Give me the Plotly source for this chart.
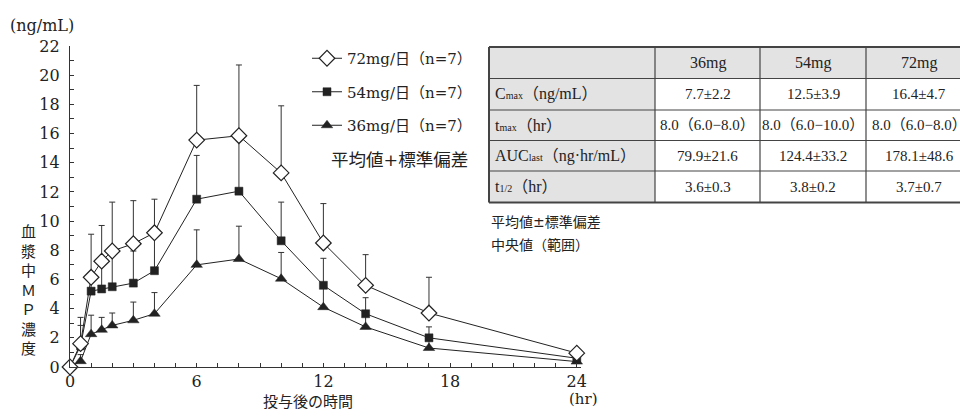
import plotly.graph_objects as go

# ---------------- data ----------------
times = [0, 0.5, 1, 1.5, 2, 3, 4, 6, 8, 10, 12, 14, 17, 24]
mean_72 = [0, 1.6, 6.15, 7.25, 7.95, 8.45, 9.2, 15.55, 15.85, 13.3, 8.5, 5.6, 3.7, 0.95]
sd_72 = [0, 1.8, 2.95, 2.45, 3.35, 2.95, 2.3, 3.75, 4.85, 4.6, 2.7, 2.1, 2.45, 0.3]
mean_54 = [0, 1.45, 5.2, 5.35, 5.5, 5.75, 6.6, 11.5, 12.05, 8.65, 5.6, 3.65, 2.0, 0.6]
sd_54 = [0, 1.4, 0.9, 1.85, 2.4, 2.2, 2.5, 3.0, 3.65, 2.65, 1.85, 1.1, 0.75, 0.2]
mean_36 = [0, 0.4, 2.25, 2.55, 2.85, 3.2, 3.65, 7.0, 7.4, 6.05, 4.1, 2.75, 1.3, 0.37]
sd_36 = [0, 0.45, 1.3, 0.85, 0.85, 1.25, 1.45, 2.4, 2.25, 1.8, 1.3, 0.75, 0.6, 0.1]

series_names = ["72mg/日（n=7）", "54mg/日（n=7）", "36mg/日（n=7）"]

y_ticks = list(range(0, 23, 2))
x_ticks = [0, 6, 12, 18, 24]

table_header = ["", "36mg", "54mg", "72mg"]
table_rows = [
    "C<span style='font-size:10px'>max</span>（ng/mL）",
    "t<span style='font-size:10px'>max</span>（hr）",
    "AUC<span style='font-size:10px'>last</span>（ng·hr/mL）",
    "t<span style='font-size:10px'>1/2</span>（hr）",
]
table_values = [
    ["7.7±2.2", "12.5±3.9", "16.4±4.7"],
    ["8.0（6.0−8.0）", "8.0（6.0−10.0）", "8.0（6.0−8.0）"],
    ["79.9±21.6", "124.4±33.2", "178.1±48.6"],
    ["3.6±0.3", "3.8±0.2", "3.7±0.7"],
]
table_notes = ["平均値±標準偏差", "中央値（範囲）"]

# ---------------- layout constants ----------------
W, H = 960, 412
ML, MT, MB = 70, 46, 45
X_RANGE = [0, 24.2]
PW = 511
MR = W - ML - PW
PH = H - MT - MB
FONT = "DejaVu Serif, Noto Sans CJK JP, serif"
TFONT = "Liberation Serif, Noto Sans CJK JP, serif"
INK = "#222222"


def px(x):
    return (x - ML) / PW


def py(y):
    return (H - MB - y) / PH


fig = go.Figure()

styles = {
    "72": dict(symbol="diamond", size=12, color="white", line=dict(color=INK, width=1.2)),
    "54": dict(symbol="square", size=8, color=INK, line=dict(color=INK, width=0.5)),
    "36": dict(symbol="triangle-up", size=10, color=INK, line=dict(color=INK, width=0.5)),
}

for key, mean, sd, name, rank in [
    ("36", mean_36, sd_36, series_names[2], 3),
    ("54", mean_54, sd_54, series_names[1], 2),
    ("72", mean_72, sd_72, series_names[0], 1),
]:
    fig.add_trace(go.Scatter(
        x=times, y=mean, name=name, mode="lines+markers",
        legendgroup=key, legendrank=rank,
        line=dict(color=INK, width=1),
        marker=styles[key],
        error_y=dict(type="data", symmetric=False, array=sd,
                     arrayminus=[0] * len(sd), color="#333333",
                     thickness=1, width=3),
        cliponaxis=False,
    ))

fig.update_layout(
    width=W, height=H,
    margin=dict(l=ML, r=MR, t=MT, b=MB),
    paper_bgcolor="white", plot_bgcolor="white",
    font=dict(family=FONT, size=15, color=INK),
    showlegend=True,
    legend=dict(x=px(307), y=py(42), xanchor="left", yanchor="top",
                bgcolor="rgba(0,0,0,0)", font=dict(size=15, family=FONT),
                tracegroupgap=11, itemwidth=30),
    xaxis=dict(range=X_RANGE, tickvals=x_ticks, ticks="inside", ticklen=4,
               tickcolor="#333", showline=True, linecolor="#333", linewidth=1.3,
               showgrid=False, zeroline=False, tickfont=dict(size=16),
               minor=dict(dtick=1, ticks="inside", ticklen=4, tickcolor="#333")),
    yaxis=dict(range=[0, 22], tickvals=y_ticks, ticks="inside", ticklen=4,
               tickcolor="#333", showline=True, linecolor="#333", linewidth=1.3,
               showgrid=False, zeroline=False, tickfont=dict(size=16),
               ticklabelstandoff=6,
               minor=dict(dtick=1, ticks="inside", ticklen=4, tickcolor="#333")),
)

ann = []
ann.append(dict(text="(ng/mL)", x=px(8), y=py(25), xanchor="left", yanchor="middle",
                font=dict(size=16)))
ann.append(dict(text="<br>".join(list("血漿中ＭＰ濃度")), x=px(28), y=py(290),
                xanchor="center", yanchor="middle", font=dict(size=15),
                align="center"))
ann.append(dict(text="投与後の時間", x=px(308), y=py(402), xanchor="center",
                yanchor="middle", font=dict(size=15)))
ann.append(dict(text="(hr)", x=px(583), y=py(399), xanchor="center",
                yanchor="middle", font=dict(size=15)))
ann.append(dict(text="平均値+標準偏差", x=px(329), y=py(160), xanchor="left",
                yanchor="middle", font=dict(size=17.5)))

# ---------------- table (shapes + text) ----------------
col_x = [489, 655, 760, 866, 972]
row_y = [47, 78.5, 110, 140.5, 171, 202.5]
shapes = []
GRAY = "#e3e3e3"
shapes.append(dict(type="rect", xref="paper", yref="paper",
                   x0=px(col_x[0]), x1=px(col_x[-1]), y0=py(row_y[0]), y1=py(row_y[1]),
                   fillcolor=GRAY, line=dict(width=0), layer="below"))
shapes.append(dict(type="rect", xref="paper", yref="paper",
                   x0=px(col_x[0]), x1=px(col_x[1]), y0=py(row_y[1]), y1=py(row_y[-1]),
                   fillcolor=GRAY, line=dict(width=0), layer="below"))
for yy in row_y:
    w = 2 if yy in (row_y[0], row_y[-1]) else 1.2
    shapes.append(dict(type="line", xref="paper", yref="paper",
                       x0=px(col_x[0]), x1=px(col_x[-1]), y0=py(yy), y1=py(yy),
                       line=dict(color="#444", width=w)))
for i, xx in enumerate(col_x):
    w = 2 if i == 0 else 1.2
    shapes.append(dict(type="line", xref="paper", yref="paper",
                       x0=px(xx), x1=px(xx), y0=py(row_y[0]), y1=py(row_y[-1]),
                       line=dict(color="#444", width=w)))

for j, h in enumerate(table_header):
    if h:
        ann.append(dict(text=h, x=px((col_x[j] + col_x[j + 1]) / 2),
                        y=py((row_y[0] + row_y[1]) / 2), xanchor="center",
                        yanchor="middle", font=dict(size=16, family=TFONT)))
for i, lab in enumerate(table_rows):
    yc = py((row_y[i + 1] + row_y[i + 2]) / 2)
    ann.append(dict(text=lab, x=px(col_x[0] + 4), y=yc, xanchor="left",
                    yanchor="middle", font=dict(size=16, family=TFONT)))
    for j, v in enumerate(table_values[i]):
        ann.append(dict(text=v, x=px((col_x[j + 1] + col_x[j + 2]) / 2), y=yc,
                        xanchor="center", yanchor="middle",
                        font=dict(size=15, family=TFONT)))
for k, note in enumerate(table_notes):
    ann.append(dict(text=note, x=px(489), y=py(222 + 23 * k), xanchor="left",
                    yanchor="middle", font=dict(size=14)))

for a in ann:
    a.update(xref="paper", yref="paper", showarrow=False)
fig.update_layout(annotations=ann, shapes=shapes)

fig.write_html("out.html", config={"displayModeBar": False},
               post_script="document.body.style.margin='0';document.body.style.overflow='hidden';")
